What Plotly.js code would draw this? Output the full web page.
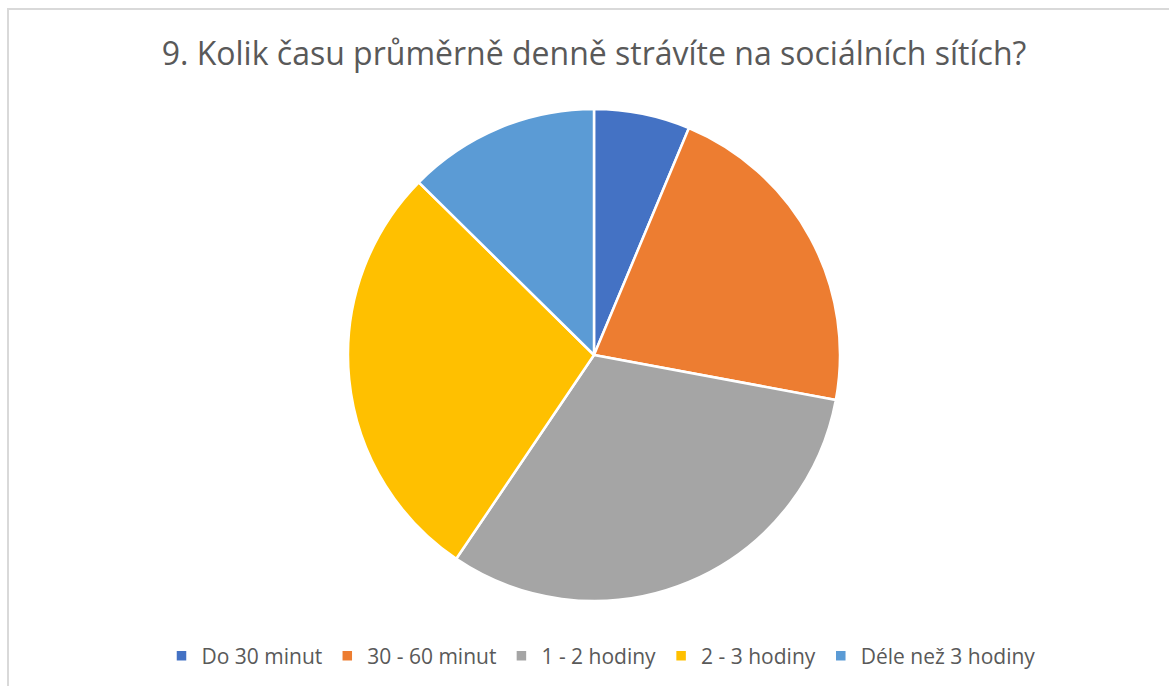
<!DOCTYPE html>
<html>
<head>
<meta charset="utf-8">
<script src="https://cdn.plot.ly/plotly-3.0.1.min.js"></script>
<style>
html,body{margin:0;padding:0;background:#fff;overflow:hidden;}
#chart{position:absolute;left:0;top:0;width:1169px;height:686px;}
#frame{position:absolute;left:7px;top:8px;width:1170px;height:690px;border:2px solid #d9d9d9;pointer-events:none;box-sizing:border-box;}
</style>
</head>
<body>
<div id="chart"></div>
<div id="frame"></div>
<script>
const categories = ["Do 30 minut", "30 - 60 minut", "1 - 2 hodiny", "2 - 3 hodiny", "Déle než 3 hodiny"];
const values = [7, 24, 35, 31, 14];
const colors = ["#4472C4", "#ED7D31", "#A5A5A5", "#FFC000", "#5B9BD5"];
const titleText = "9. Kolik času průměrně denně strávíte na sociálních sítích?";

const W = 1169, H = 686;
const cx = 594, cy = 355, r = 246;

Plotly.newPlot('chart', [{
  type: 'pie',
  labels: categories,
  values: values,
  sort: false,
  direction: 'clockwise',
  rotation: 0,
  textinfo: 'none',
  hoverinfo: 'label+value+percent',
  marker: {colors: colors, line: {color: '#ffffff', width: 2.5}},
  domain: {x: [(cx - r) / W, (cx + r) / W], y: [(H - cy - r) / H, (H - cy + r) / H]}
}], {
  width: W, height: H,
  margin: {l: 0, r: 0, t: 0, b: 0},
  paper_bgcolor: '#ffffff',
  title: {
    text: titleText,
    font: {family: 'Open Sans, sans-serif', size: 32, color: '#595959'},
    x: 594 / W, xanchor: 'center',
    y: 1 - 54 / H, yanchor: 'middle', yref: 'container'
  },
  showlegend: true,
  legend: {
    orientation: 'h',
    x: 601 / W, xanchor: 'center',
    y: 1 - 656 / H, yanchor: 'middle',
    font: {family: 'Open Sans, sans-serif', size: 21, color: '#595959'},
    traceorder: 'normal'
  }
}, {displayModeBar: false});
</script>
</body>
</html>
